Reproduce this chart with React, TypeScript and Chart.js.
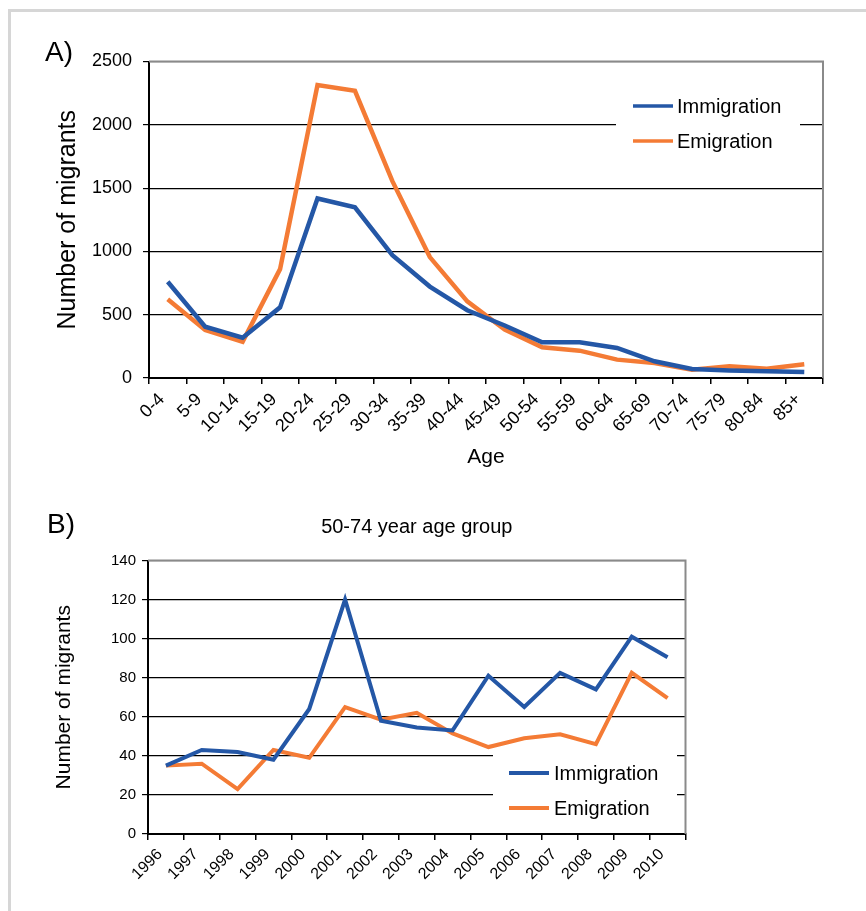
import React, { useEffect, useRef } from "react";
import { Chart, registerables } from "chart.js";

Chart.register(...registerables);

// ---------- Data ----------
const ageGroups = ["0-4", "5-9", "10-14", "15-19", "20-24", "25-29", "30-34", "35-39", "40-44", "45-49", "50-54", "55-59", "60-64", "65-69", "70-74", "75-79", "80-84", "85+"];
const immigrationByAge = [760, 405, 318, 558, 1418, 1348, 970, 722, 535, 415, 282, 282, 237, 132, 72, 60, 53, 47];
const emigrationByAge = [622, 380, 287, 860, 2314, 2268, 1555, 955, 605, 382, 242, 216, 145, 118, 66, 92, 74, 108];

const years = ["1996", "1997", "1998", "1999", "2000", "2001", "2002", "2003", "2004", "2005", "2006", "2007", "2008", "2009", "2010"];
const immigration5074 = [35, 43, 42, 38, 64, 120, 58, 54.5, 53, 81, 65, 82.5, 74, 101, 90.5];
const emigration5074 = [35, 36, 23, 43, 39, 65, 58.5, 62, 51.5, 44.5, 49, 51, 46, 82.5, 69.5];

const seriesLabels = ["Immigration", "Emigration"];
const yTitle = "Number of migrants";
const xTitleA = "Age";
const titleB = "50-74 year age group";
const panelLabels = ["A)", "B)"];

const BLUE = "#2457a6";
const ORANGE = "#f47b35";
const FONT = "'Liberation Sans', Arial, Helvetica, sans-serif";

type LegendCfg = {
  boxL: number; boxR: number; boxT: number; boxB: number;
  anchor: "top" | "bottom";
  sampleL: number; sampleW: number; textGap: number;
  rows: number[];
  lineW: number;
  fontSize: number;
};

function decorPlugin(legend: LegendCfg, panel: string, panelX: number, panelY: number) {
  return {
    id: "decor",
    beforeDatasetsDraw(chart: any) {
      const { ctx, chartArea: a } = chart;
      ctx.save();
      ctx.strokeStyle = "#8a8a8a";
      ctx.lineWidth = 2;
      ctx.beginPath();
      ctx.moveTo(a.left, a.top);
      ctx.lineTo(a.right, a.top);
      ctx.lineTo(a.right, a.bottom);
      ctx.stroke();
      ctx.restore();
    },
    afterDatasetsDraw(chart: any) {
      const { ctx, chartArea: a } = chart;
      const base = legend.anchor === "top" ? a.top : a.bottom;
      ctx.save();
      ctx.fillStyle = "#ffffff";
      ctx.fillRect(a.right - legend.boxL, base + legend.boxT, legend.boxL - legend.boxR, legend.boxB - legend.boxT);
      chart.data.datasets.forEach((ds: any, i: number) => {
        const y = base + legend.rows[i];
        const x0 = a.right - legend.sampleL;
        ctx.strokeStyle = ds.borderColor;
        ctx.lineWidth = legend.lineW;
        ctx.beginPath();
        ctx.moveTo(x0, y);
        ctx.lineTo(x0 + legend.sampleW, y);
        ctx.stroke();
        ctx.fillStyle = "#000";
        ctx.font = `${legend.fontSize}px ${FONT}`;
        ctx.textBaseline = "middle";
        ctx.textAlign = "left";
        ctx.fillText(ds.label, x0 + legend.sampleW + legend.textGap, y + 1);
      });
      ctx.restore();
    },
    afterDraw(chart: any) {
      const { ctx } = chart;
      ctx.save();
      ctx.fillStyle = "#000";
      ctx.font = `28px ${FONT}`;
      ctx.textBaseline = "alphabetic";
      ctx.textAlign = "left";
      ctx.fillText(panel, panelX, panelY);
      ctx.restore();
    },
  };
}

const plain = (v: any) => String(v);

function ChartA() {
  const ref = useRef<HTMLCanvasElement>(null);
  useEffect(() => {
    const padL = 53.5;
    const chart = new Chart(ref.current!, {
      type: "line",
      data: {
        labels: ageGroups,
        datasets: [
          { label: seriesLabels[0], data: immigrationByAge, borderColor: BLUE, backgroundColor: BLUE, borderWidth: 4.5, pointRadius: 0, tension: 0 },
          { label: seriesLabels[1], data: emigrationByAge, borderColor: ORANGE, backgroundColor: ORANGE, borderWidth: 4.5, pointRadius: 0, tension: 0 },
        ],
      },
      options: {
        responsive: false,
        animation: false,
        devicePixelRatio: 1,
        layout: { padding: { left: padL, top: 61.5, right: 866 - 823, bottom: 10 } },
        plugins: { legend: { display: false }, tooltip: { enabled: false }, title: { display: false } },
        scales: {
          x: {
            type: "category",
            offset: true,
            grid: { display: true, drawOnChartArea: false, drawTicks: true, tickLength: 6, color: "#000", offset: true, lineWidth: 1.5 },
            border: { display: true, color: "#000", width: 2 },
            ticks: { autoSkip: false, maxRotation: 45, minRotation: 45, labelOffset: -6, font: { family: FONT, size: 18 }, color: "#000", padding: 5 },
            title: { display: true, text: xTitleA, font: { family: FONT, size: 21 }, color: "#000", padding: 0 },
            afterFit: (s: any) => { s.height = 92; },
          },
          y: {
            min: 0,
            max: 2500,
            ticks: { stepSize: 500, callback: plain, font: { family: FONT, size: 18 }, color: "#000", padding: 11 },
            grid: {
              color: (c: any) => (c.tick && c.tick.value === 2500 ? "#8a8a8a" : "#000"),
              tickColor: "#000",
              lineWidth: 1.2,
              tickLength: 6,
            },
            border: { display: true, color: "#000", width: 2 },
            title: { display: true, text: yTitle, font: { family: FONT, size: 25 }, color: "#000", padding: 0 },
            afterFit: (s: any) => { s.width = 149 - padL; },
          },
        },
      } as any,
      plugins: [
        decorPlugin(
          { boxL: 207, boxR: 23, boxT: 25, boxB: 98, anchor: "top", sampleL: 190, sampleW: 40, textGap: 4, rows: [44.5, 79.5], lineW: 3.5, fontSize: 20 },
          panelLabels[0], 45, 61
        ) as any,
      ],
    });
    return () => chart.destroy();
  }, []);
  return <canvas ref={ref} width={866} height={480} style={{ display: "block", position: "absolute", left: 0, top: 0 }} />;
}

function ChartB() {
  const ref = useRef<HTMLCanvasElement>(null);
  useEffect(() => {
    const padL = 52;
    const chart = new Chart(ref.current!, {
      type: "line",
      data: {
        labels: years,
        datasets: [
          { label: seriesLabels[0], data: immigration5074, borderColor: BLUE, backgroundColor: BLUE, borderWidth: 4, pointRadius: 0, tension: 0 },
          { label: seriesLabels[1], data: emigration5074, borderColor: ORANGE, backgroundColor: ORANGE, borderWidth: 4, pointRadius: 0, tension: 0 },
        ],
      },
      options: {
        responsive: false,
        animation: false,
        devicePixelRatio: 1,
        layout: { padding: { left: padL, top: 35, right: 866 - 685.5, bottom: 0 } },
        plugins: {
          legend: { display: false },
          tooltip: { enabled: false },
          title: {
            display: true,
            text: titleB,
            fullSize: false,
            font: { family: FONT, size: 20, weight: "normal" },
            color: "#000",
            padding: { top: 0, bottom: 21.5 },
          },
        },
        scales: {
          x: {
            type: "category",
            offset: true,
            grid: { display: true, drawOnChartArea: false, drawTicks: true, tickLength: 6, color: "#000", offset: true, lineWidth: 1.5 },
            border: { display: true, color: "#000", width: 2 },
            ticks: { autoSkip: false, maxRotation: 45, minRotation: 45, labelOffset: -6, font: { family: FONT, size: 16 }, color: "#000", padding: 5 },
            afterFit: (s: any) => { s.height = 77; },
          },
          y: {
            min: 0,
            max: 140,
            ticks: { stepSize: 20, callback: plain, font: { family: FONT, size: 15 }, color: "#000", padding: 6 },
            grid: {
              color: (c: any) => (c.tick && c.tick.value === 140 ? "#8a8a8a" : "#000"),
              tickColor: "#000",
              lineWidth: 1.2,
              tickLength: 6,
            },
            border: { display: true, color: "#000", width: 2 },
            title: { display: true, text: yTitle, font: { family: FONT, size: 21 }, color: "#000", padding: 0 },
            afterFit: (s: any) => { s.width = 148 - padL; },
          },
        },
      } as any,
      plugins: [
        decorPlugin(
          { boxL: 192.5, boxR: 8.5, boxT: -84, boxB: -8, anchor: "bottom", sampleL: 176.5, sampleW: 40, textGap: 5, rows: [-61, -26], lineW: 4, fontSize: 20 },
          panelLabels[1], 47, 53
        ) as any,
      ],
    });
    return () => chart.destroy();
  }, []);
  return <canvas ref={ref} width={866} height={431} style={{ display: "block", position: "absolute", left: 0, top: 480 }} />;
}

export default function App() {
  return (
    <div style={{ position: "absolute", left: 0, top: 0, width: 866, height: 911, overflow: "hidden", background: "#fff" }}>
      <div
        style={{
          position: "absolute",
          left: 8,
          top: 9,
          width: 1000,
          height: 1000,
          borderLeft: "3px solid #d6d6d6",
          borderTop: "3px solid #d6d6d6",
        }}
      />
      <ChartA />
      <ChartB />
    </div>
  );
}
